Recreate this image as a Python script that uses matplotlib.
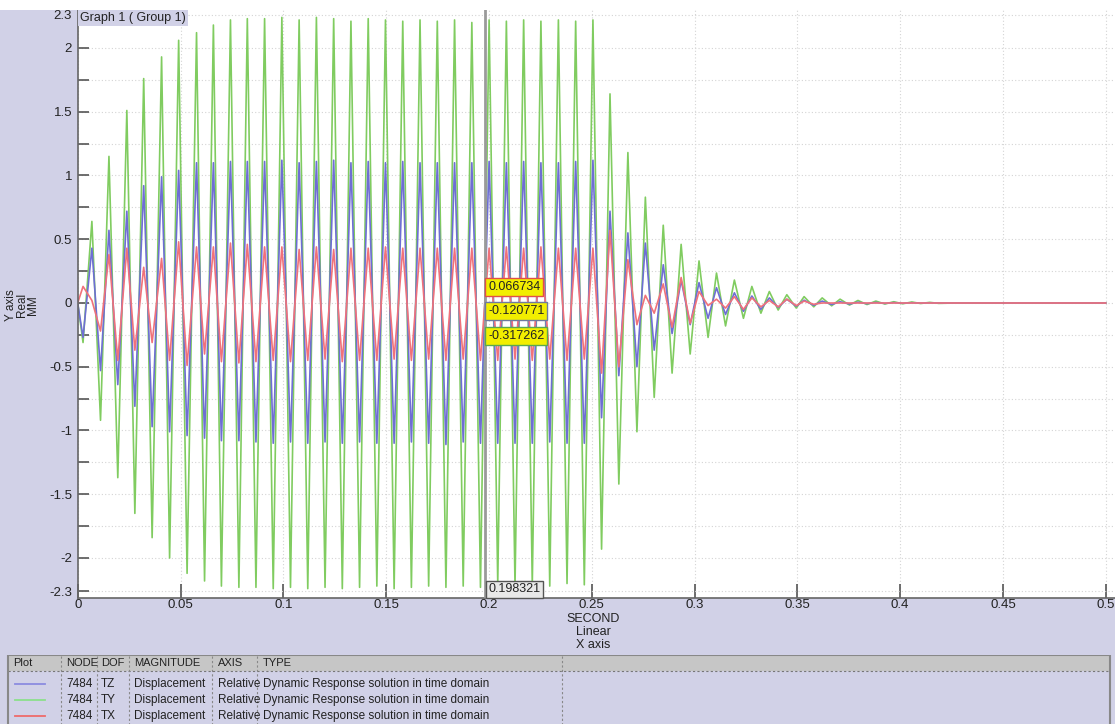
import matplotlib
matplotlib.use('Agg')
import matplotlib.pyplot as plt
from matplotlib.ticker import FixedLocator
from matplotlib.patches import Rectangle

plt.rcParams['font.family'] = ['Liberation Sans', 'DejaVu Sans']

# time of each turning point (seconds)
t_ext = [0.0, 0.0026, 0.0069, 0.0111, 0.0152, 0.0195, 0.0239, 0.0278, 0.0321, 0.0362,
         0.0408, 0.0447, 0.0491, 0.0532, 0.0578, 0.0617, 0.0660, 0.0699, 0.0743, 0.0784,
         0.0825, 0.0867, 0.0909, 0.0951, 0.0993, 0.1035, 0.1077, 0.1119, 0.1161, 0.1203,
         0.1245, 0.1287, 0.1329, 0.1371, 0.1413, 0.1455, 0.1497, 0.1539, 0.1581, 0.1623,
         0.1665, 0.1707, 0.1749, 0.1791, 0.1833, 0.1875, 0.1917, 0.1959, 0.2001, 0.2043,
         0.2085, 0.2127, 0.2169, 0.2211, 0.2253, 0.2296, 0.2338, 0.2380, 0.2422, 0.2464,
         0.2506, 0.2548, 0.2589, 0.2632, 0.2676, 0.2720, 0.2761, 0.2804, 0.2848, 0.2891,
         0.2935, 0.2979, 0.3022, 0.3066, 0.3107, 0.3151, 0.3194, 0.3238, 0.3279, 0.3323,
         0.3364, 0.3407, 0.3449, 0.3495, 0.3533, 0.3580, 0.3621, 0.3667, 0.3708, 0.3754,
         0.3795, 0.3839, 0.3882, 0.3926, 0.3969, 0.4013, 0.4057, 0.4100, 0.4144, 0.4188,
         0.4270, 0.5000]

# TZ (blue)
disp_tz = [0, -0.27, 0.43, -0.53, 0.57, -0.64, 0.72, -0.81, 0.92, -0.97,
           0.99, -1.01, 1.04, -1.04, 1.10, -1.06, 1.10, -1.08, 1.11, -1.08,
           1.11, -1.09, 1.11, -1.10, 1.12, -1.09, 1.10, -1.10, 1.11, -1.09,
           1.12, -1.10, 1.10, -1.09, 1.11, -1.10, 1.10, -1.10, 1.11, -1.09,
           1.10, -1.10, 1.10, -1.11, 1.10, -1.09, 1.10, -1.10, 1.11, -1.10,
           1.10, -1.10, 1.11, -1.10, 1.10, -1.09, 1.10, -1.10, 1.11, -1.10,
           1.12, -0.90, 0.72, -0.57, 0.55, -0.50, 0.47, -0.37, 0.30, -0.24,
           0.18, -0.17, 0.16, -0.12, 0.12, -0.09, 0.08, -0.065, 0.055, -0.05,
           0.04, -0.035, 0.03, -0.025, 0.022, -0.018, 0.015, -0.012, 0.01, -0.008,
           0.006, -0.005, 0.004, -0.003, 0.003, -0.002, 0.002, -0.001, 0.001, 0,
           0, 0]

# TY (green)
disp_ty = [0, -0.31, 0.64, -0.92, 1.15, -1.37, 1.51, -1.65, 1.76, -1.84,
           1.93, -2.00, 2.06, -2.12, 2.12, -2.18, 2.18, -2.22, 2.22, -2.23,
           2.23, -2.23, 2.23, -2.24, 2.24, -2.23, 2.22, -2.24, 2.24, -2.23,
           2.23, -2.24, 2.21, -2.23, 2.23, -2.22, 2.22, -2.24, 2.21, -2.23,
           2.22, -2.22, 2.21, -2.23, 2.22, -2.22, 2.20, -2.23, 2.22, -2.20,
           2.21, -2.22, 2.22, -2.21, 2.21, -2.22, 2.22, -2.20, 2.21, -2.21,
           2.22, -1.93, 1.64, -1.42, 1.18, -1.01, 0.83, -0.74, 0.61, -0.55,
           0.46, -0.40, 0.33, -0.27, 0.235, -0.18, 0.18, -0.12, 0.13, -0.08,
           0.09, -0.055, 0.065, -0.04, 0.05, -0.03, 0.04, -0.022, 0.03, -0.016,
           0.02, -0.012, 0.015, -0.008, 0.01, -0.006, 0.008, -0.004, 0.005, -0.003,
           0, 0]

# TX (red)
disp_tx = [0, 0.13, 0.02, -0.22, 0.38, -0.45, 0.43, -0.37, 0.28, -0.31,
           0.35, -0.45, 0.48, -0.49, 0.44, -0.40, 0.44, -0.46, 0.47, -0.47,
           0.46, -0.46, 0.44, -0.45, 0.44, -0.46, 0.42, -0.45, 0.44, -0.44,
           0.42, -0.46, 0.43, -0.45, 0.43, -0.45, 0.44, -0.44, 0.43, -0.45,
           0.43, -0.44, 0.43, -0.45, 0.43, -0.44, 0.43, -0.45, 0.43, -0.45,
           0.44, -0.44, 0.43, -0.45, 0.44, -0.44, 0.43, -0.45, 0.43, -0.44,
           0.43, -0.55, 0.57, -0.50, 0.34, -0.17, 0.06, -0.08, 0.15, -0.19,
           0.20, -0.16, 0.09, -0.02, 0.03, -0.04, 0.05, -0.05, 0.04, -0.03,
           0.02, -0.03, 0.03, -0.02, 0.015, -0.01, 0, 0, 0, 0,
           0, 0, 0, 0, 0, 0, 0, 0, 0, 0,
           0, 0]

cursor_t = 0.198321
cursor_vals = ['0.066734', '-0.120771', '-0.317262']

nodes = ['7484', '7484', '7484']
dofs = ['TZ', 'TY', 'TX']
magnitudes = ['Displacement', 'Displacement', 'Displacement']
axis_kind = ['Relative', 'Relative', 'Relative']
types = ['Dynamic Response solution in time domain'] * 3
headers = ['Plot', 'NODE', 'DOF', 'MAGNITUDE', 'AXIS', 'TYPE']

BG = '#d1d1e7'
BLUE = '#6e6ed4'
GREEN = '#80cc60'
RED = '#f0727a'
TXT = '#222222'

W, H = 1115, 724
fig = plt.figure(figsize=(W / 100, H / 100), dpi=100, facecolor=BG)
fig.patches.append(Rectangle((0, 1 - 10 / H), 1, 10 / H, transform=fig.transFigure,
                             facecolor='white', edgecolor='none', zorder=0))

# main plot, pixel layout: x=0 at 77.7px, 1 s = 2056px; y=0 at 303px, 1 mm = 127.5px
x0, ybot, ytop = 77.7, 598, 8
ax = fig.add_axes([x0 / W, 1 - ybot / H, (W - x0) / W, (ybot - ytop) / H])
ax.set_facecolor('white')
ax.set_xlim(0, (W - x0) / 2056)
ax.set_ylim(-(ybot - 303) / 127.5, (303 - ytop) / 127.5)

ax.plot(t_ext, disp_ty, color=GREEN, lw=1.2)
ax.plot(t_ext, disp_tz, color=BLUE, lw=1.2)
ax.plot(t_ext, disp_tx, color=RED, lw=1.2)

yt = [-2.26, -2, -1.5, -1, -0.5, 0, 0.5, 1, 1.5, 2, 2.26]
ax.yaxis.set_major_locator(FixedLocator(yt))
ax.set_yticklabels(['-2.3', '-2', '-1.5', '-1', '-0.5', '0', '0.5', '1', '1.5', '2', '2.3'])
ax.yaxis.set_minor_locator(FixedLocator([-1.75, -1.25, -0.75, -0.25, 0.25, 0.75, 1.25, 1.75]))
xt = [0, 0.05, 0.1, 0.15, 0.2, 0.25, 0.3, 0.35, 0.4, 0.45, 0.5]
ax.xaxis.set_major_locator(FixedLocator(xt))
ax.set_xticklabels(['0', '0.05', '0.1', '0.15', '0.2', '0.25', '0.3', '0.35', '0.4', '0.45', '0.5'])
ax.tick_params(axis='both', which='both', direction='in', color='#555555',
               labelsize=9.5, labelcolor=TXT, width=1.2)
ax.tick_params(axis='y', which='both', length=8, pad=4)
ax.tick_params(axis='x', length=10, pad=1)
ax.grid(True, which='both', color='#d4d4d4', linestyle=(0, (1, 2)), lw=0.8)
ax.set_axisbelow(True)
for s in ['top', 'right']:
    ax.spines[s].set_visible(False)
for s in ['left', 'bottom']:
    ax.spines[s].set_color('#666666')
    ax.spines[s].set_linewidth(1.2)

# cursor
ax.axvline(cursor_t, color='#9a9a9a', lw=2, zorder=5)
edge_cols = ['#e0504a', '#6f7aa0', '#5aa850']
box_y = [0.125, -0.063, -0.26]
for val, yy, ec in zip(cursor_vals, box_y, edge_cols):
    ax.text(cursor_t + 0.0013, yy, val, fontsize=9, ha='left', va='center', zorder=6,
            color=TXT,
            bbox=dict(boxstyle='square,pad=0.22', facecolor='#f2ee00', edgecolor=ec, lw=1))
ax.text(cursor_t + 0.0013, -2.245, f'{cursor_t:.6f}', fontsize=9, ha='left', va='center',
        zorder=6, color=TXT, bbox=dict(boxstyle='square,pad=0.2', facecolor='#e8e8e8',
                                       edgecolor='#555555', lw=1))

ax.text(0.0012, (303 - 18) / 127.5, 'Graph 1 ( Group 1)', fontsize=9, ha='left',
        va='center', color=TXT,
        bbox=dict(boxstyle='square,pad=0.15', facecolor=BG, edgecolor='none'))

fig.text(22 / W, 1 - 305 / H, 'Y axis\nReal\nMM', rotation=90, ha='center', va='center',
         fontsize=8.5, linespacing=0.9, multialignment='center', color=TXT)
fig.text(593 / W, 1 - 632 / H, 'SECOND\nLinear\nX axis', ha='center', va='center',
         fontsize=9, linespacing=1.1, multialignment='center', color=TXT)

# legend table drawn in pixel coordinates
tab = fig.add_axes([0, 0, 1, 1 - 655 / H])
tab.set_xlim(0, W)
tab.set_ylim(H, 655)
tab.axis('off')
tab.add_patch(Rectangle((8, 655), 1102, 16, facecolor='#c6c6c6', edgecolor='none'))
tab.plot([8, 1110], [671, 671], color='#777777', lw=0.8, ls=(0, (2, 2)))
tab.plot([8, 8, 1110, 1110], [H, 655, 655, H], color='#888888', lw=1.5)
for sx in [61, 97, 129, 212, 257, 562]:
    tab.plot([sx, sx], [656, H], color='#888888', lw=0.8, ls=(0, (2, 2)))
hx = [13, 66, 101, 134, 218, 263]
for lbl, xx in zip(headers, hx):
    tab.text(xx, 663, lbl, fontsize=8, ha='left', va='center', color=TXT)
row_y = [684, 700, 716]
leg_cols = ['#8c8ce0', '#8ce08c', '#ee6a6a']
for i, yy in enumerate(row_y):
    tab.plot([15, 45], [yy, yy], color=leg_cols[i], lw=1.3)
    for txt, xx in zip([nodes[i], dofs[i], magnitudes[i], axis_kind[i], types[i]], hx[1:]):
        tab.text(xx, yy, txt, fontsize=8.5, ha='left', va='center', color=TXT)

fig.savefig('out.png', dpi=100, facecolor=BG)
